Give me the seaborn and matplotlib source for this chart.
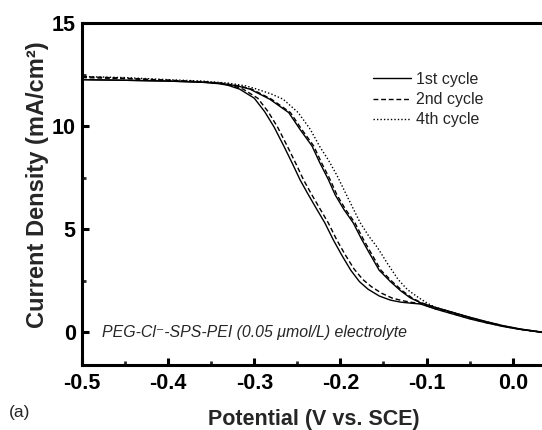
import matplotlib
matplotlib.use("Agg")
import matplotlib.pyplot as plt
from matplotlib.lines import Line2D
from matplotlib.ticker import MultipleLocator
import seaborn as sns
import pandas as pd

# Forward / reverse sweeps of each cycle: potential (V vs. SCE), current density (mA/cm2)
c1_fwd_x = [-0.50, -0.45, -0.40, -0.36, -0.34, -0.33, -0.317, -0.30, -0.288, -0.277, -0.266,
            -0.256, -0.247, -0.238, -0.228, -0.218, -0.208, -0.198, -0.188, -0.178, -0.168,
            -0.155, -0.142, -0.13, -0.118, -0.107, -0.09, -0.07, -0.05, -0.03, -0.01, 0.01, 0.034]
c1_fwd_y = [12.25, 12.22, 12.18, 12.12, 12.05, 11.97, 11.79, 11.35, 10.70, 9.95, 9.05,
            8.20, 7.40, 6.72, 6.00, 5.29, 4.45, 3.70, 3.00, 2.45, 2.08,
            1.75, 1.55, 1.45, 1.40, 1.36, 1.12, 0.88, 0.64, 0.44, 0.26, 0.12, -0.02]

c1_rev_x = [-0.50, -0.45, -0.40, -0.36, -0.34, -0.32, -0.305, -0.282, -0.26, -0.247, -0.233,
            -0.224, -0.214, -0.206, -0.196, -0.185, -0.176, -0.168, -0.155, -0.142, -0.13,
            -0.119, -0.107, -0.09, -0.07, -0.05, -0.03, -0.01, 0.01, 0.034]
c1_rev_y = [12.25, 12.22, 12.18, 12.13, 12.08, 11.95, 11.79, 11.30, 10.65, 9.84, 9.03,
            8.22, 7.40, 6.65, 5.95, 5.29, 4.55, 3.95, 3.00, 2.45, 2.00,
            1.66, 1.42, 1.20, 0.96, 0.72, 0.50, 0.30, 0.14, 0.00]

c2_fwd_x = [-0.50, -0.45, -0.40, -0.36, -0.34, -0.326, -0.313, -0.296, -0.284, -0.273, -0.262,
            -0.252, -0.243, -0.234, -0.224, -0.214, -0.204, -0.194, -0.184, -0.174, -0.164,
            -0.152, -0.14, -0.128, -0.117, -0.107, -0.09, -0.07, -0.05, -0.03, -0.01, 0.01, 0.034]
c2_fwd_y = [12.40, 12.32, 12.22, 12.14, 12.06, 11.97, 11.79, 11.35, 10.70, 9.95, 9.05,
            8.20, 7.40, 6.72, 6.00, 5.29, 4.45, 3.72, 3.05, 2.55, 2.20,
            1.88, 1.65, 1.52, 1.44, 1.38, 1.14, 0.90, 0.66, 0.45, 0.27, 0.12, -0.02]

c2_rev_x = [-0.50, -0.45, -0.40, -0.36, -0.34, -0.318, -0.303, -0.280, -0.258, -0.245, -0.231,
            -0.222, -0.212, -0.204, -0.194, -0.183, -0.174, -0.166, -0.153, -0.140, -0.128,
            -0.117, -0.106, -0.09, -0.07, -0.05, -0.03, -0.01, 0.01, 0.034]
c2_rev_y = [12.35, 12.30, 12.22, 12.15, 12.09, 11.95, 11.79, 11.30, 10.65, 9.84, 9.03,
            8.22, 7.40, 6.65, 5.95, 5.29, 4.55, 3.95, 3.00, 2.45, 2.00,
            1.66, 1.42, 1.19, 0.95, 0.71, 0.49, 0.29, 0.13, -0.01]

c4_x = [-0.50, -0.45, -0.40, -0.36, -0.33, -0.31, -0.297, -0.28, -0.2665, -0.249, -0.235,
        -0.224, -0.214, -0.204, -0.197, -0.19, -0.177, -0.167, -0.157, -0.145, -0.133,
        -0.122, -0.111, -0.1, -0.09, -0.07, -0.05, -0.03, -0.01, 0.01, 0.034]
c4_y = [12.40, 12.35, 12.25, 12.18, 12.08, 11.95, 11.79, 11.55, 11.30, 10.65, 9.84,
        9.00, 8.35, 7.60, 7.00, 6.40, 5.30, 4.65, 4.10, 3.30, 2.55,
        2.05, 1.72, 1.42, 1.20, 0.95, 0.70, 0.48, 0.28, 0.13, 0.00]

cycle_labels = ["1st cycle", "2nd cycle", "4th cycle"]
x_ticks = [-0.5, -0.4, -0.3, -0.2, -0.1, 0.0]
y_ticks = [0, 5, 10, 15]

sns.set_style("ticks")
plt.rcParams["font.family"] = ["Liberation Sans", "DejaVu Sans"]

W, H = 542, 430
fig = plt.figure(figsize=(W / 100, H / 100), dpi=100)
ax_l, ax_b, ax_w, ax_h = 82, 65, 460, 342  # axes box in pixels
ax = fig.add_axes([ax_l / W, ax_b / H, ax_w / W, ax_h / H])

dash = (0, (3.5, 2.0))
dot = (0, (1.0, 1.5))
curves = [
    (c1_fwd_x, c1_fwd_y, "-"),
    (c1_rev_x, c1_rev_y, "-"),
    (c2_fwd_x, c2_fwd_y, dash),
    (c2_rev_x, c2_rev_y, dash),
    (c4_x, c4_y, dot),
]
for xs, ys, ls in curves:
    df = pd.DataFrame({"E": xs, "j": ys})
    sns.lineplot(data=df, x="E", y="j", sort=False, estimator=None, ax=ax,
                 color="black", linewidth=1.0, linestyle=ls)

ax.set_xlim(-0.5, 0.034)
ax.set_ylim(-1.6, 15)
ax.set_xticks(x_ticks)
ax.set_xticklabels([f"{v:.1f}" for v in x_ticks])
ax.set_yticks(y_ticks)
ax.xaxis.set_minor_locator(MultipleLocator(0.05))
ax.yaxis.set_minor_locator(MultipleLocator(2.5))

for side in ["left", "bottom", "top"]:
    ax.spines[side].set_linewidth(2.2)
    ax.spines[side].set_color("black")
ax.spines["right"].set_visible(False)

ax.tick_params(axis="both", which="major", direction="in", length=5, width=2.2,
               labelsize=15.5, colors="black")
ax.tick_params(axis="x", which="major", pad=5.5)
ax.tick_params(axis="y", which="major", pad=4.5)
ax.tick_params(axis="both", which="minor", direction="in", length=3, width=2.0)
for lab in ax.get_xticklabels() + ax.get_yticklabels():
    lab.set_fontweight("bold")

ax.set_xlabel("Potential (V vs. SCE)", fontsize=15.5, fontweight="bold")
ax.set_ylabel("Current Density (mA/cm²)", fontsize=17, fontweight="bold")
ax.xaxis.set_label_coords((314 - ax_l) / ax_w, -(409 - (H - ax_b)) / ax_h)
ax.yaxis.set_label_coords(-(ax_l - 49) / ax_w, ((H - ax_b) - 185) / ax_h)

handles = [Line2D([], [], color="black", lw=1.0, linestyle=ls)
           for ls in ["-", dash, dot]]
ax.legend(handles, cycle_labels, loc="upper left",
          bbox_to_anchor=((373 - ax_l) / ax_w, ((H - ax_b) - 72) / ax_h),
          frameon=False, fontsize=11.5, handlelength=2.4, handletextpad=0.3,
          labelspacing=0.32, borderaxespad=0, borderpad=0)

ax.text(-0.477, 0.0, "PEG-Cl⁻-SPS-PEI (0.05 μmol/L) electrolyte", fontsize=11.4,
        fontstyle="italic", va="center", ha="left")

fig.text(20 / W, 1 - 413 / H, "(a)", fontsize=12.5, va="center", ha="center")

fig.savefig("out.png", dpi=100)
